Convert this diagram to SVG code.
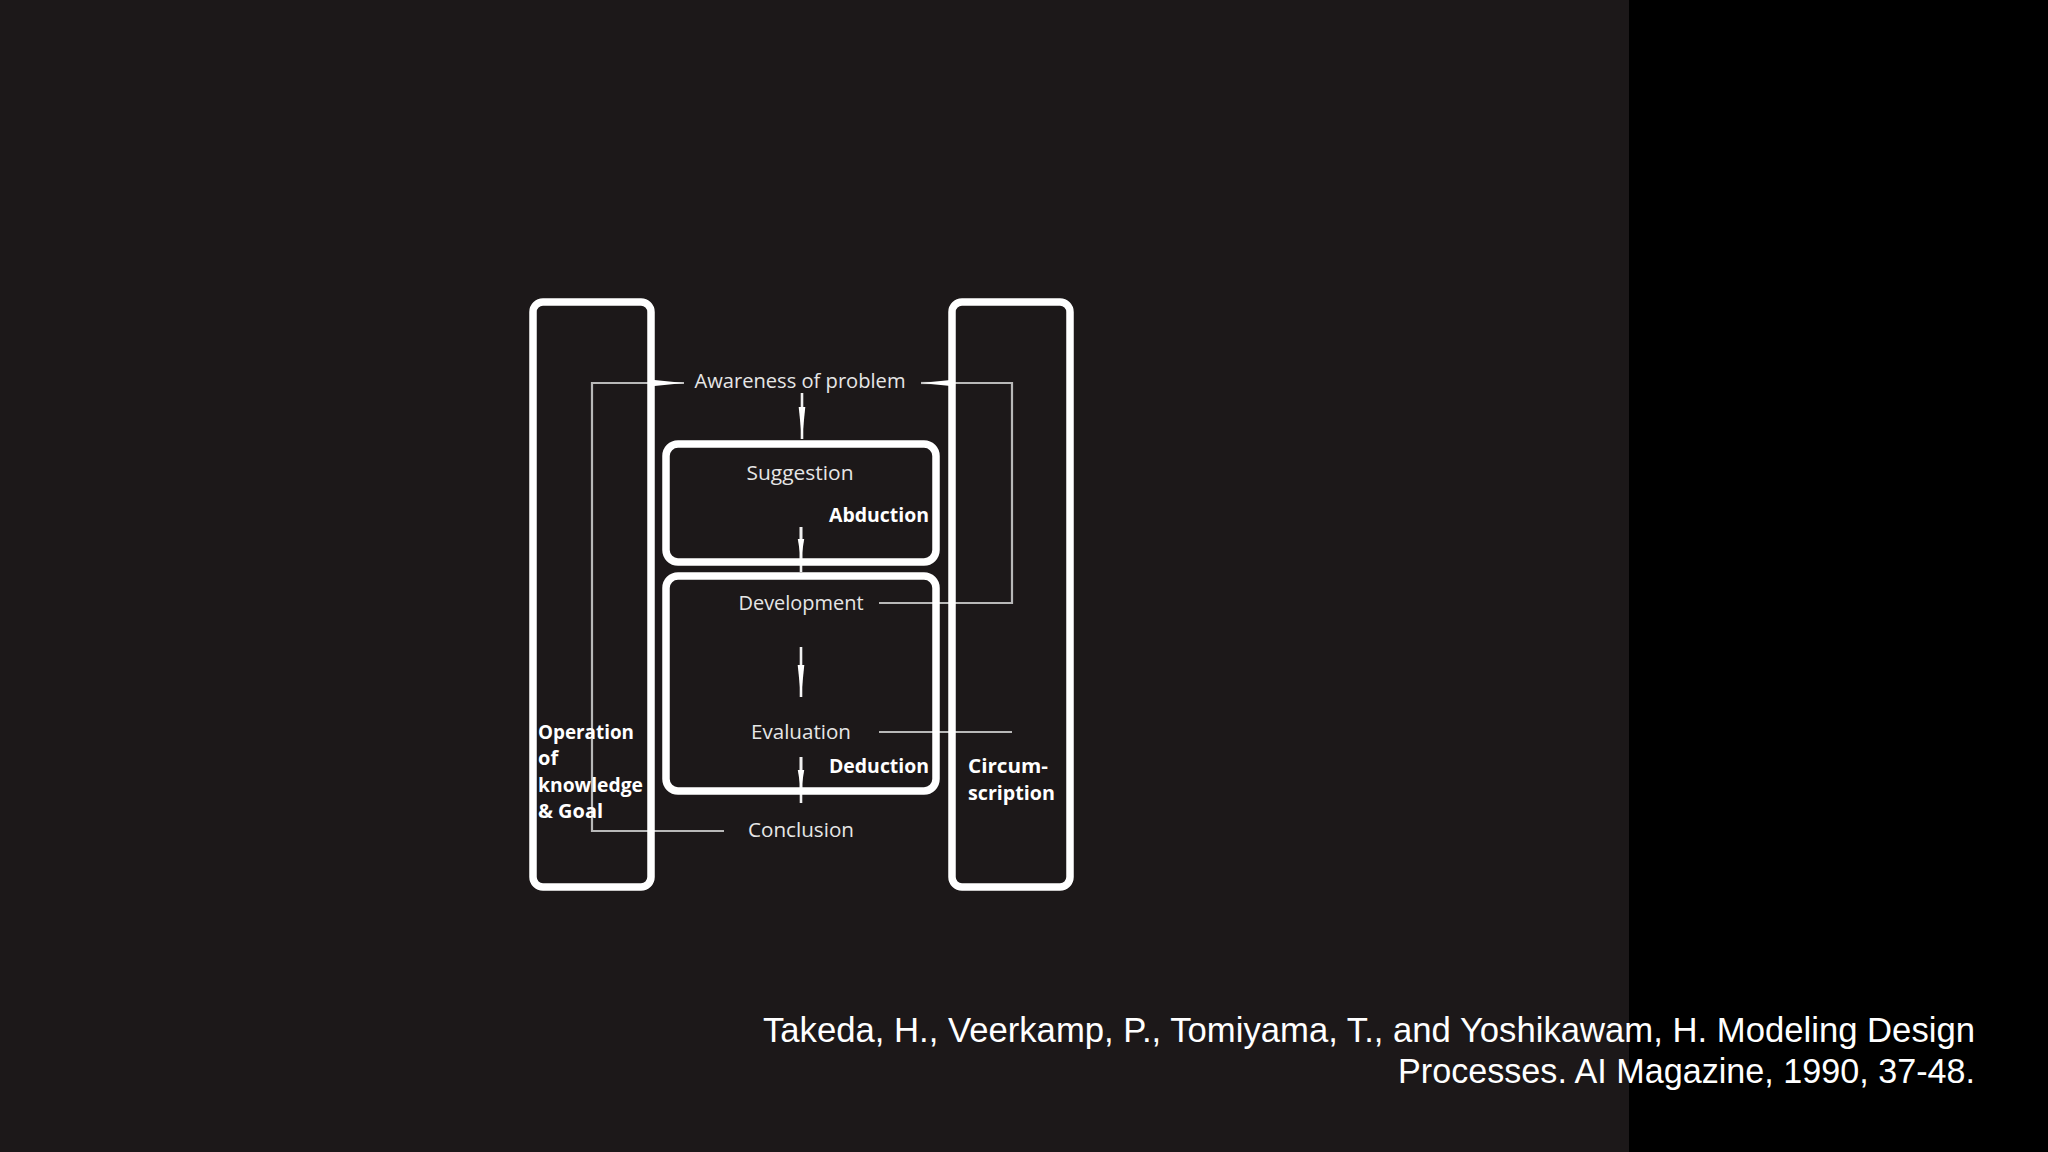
<svg xmlns="http://www.w3.org/2000/svg" width="2048" height="1152" viewBox="0 0 2048 1152">
<defs>
<style>
.box{fill:none;stroke:#ffffff;stroke-width:7.5;}
.fb{fill:none;stroke:#b8b8b8;stroke-width:2.2;}
.flow{fill:none;stroke:#f0f0f0;stroke-width:2.6;}
.lbl{font-family:"Open Sans","DejaVu Sans",sans-serif;font-size:20px;fill:#e6e6e6;text-anchor:middle;}
.bld{font-family:"Open Sans","DejaVu Sans",sans-serif;font-size:20px;font-weight:bold;fill:#ffffff;}
.cite{font-family:"Liberation Sans",Arial,sans-serif;font-size:34.5px;fill:#ffffff;text-anchor:end;}
</style>
<marker id="head" markerUnits="userSpaceOnUse" markerWidth="34" markerHeight="8" refX="32" refY="4" orient="auto">
<path d="M0,0.7 L32,4 L0,7.3 z" fill="#ffffff"/>
</marker>
<marker id="headS" markerUnits="userSpaceOnUse" markerWidth="22" markerHeight="8" refX="20" refY="4" orient="auto">
<path d="M0,0.8 L20,4 L0,7.2 z" fill="#ffffff"/>
</marker>
</defs>
<rect x="0" y="0" width="2048" height="1152" fill="#1c1819"/>
<rect x="1629" y="0" width="419" height="1152" fill="#000000"/>

<g id="connectors">
<path class="fb" d="M724,831 H592 V383 H652"/>
<path class="fb" d="M879,603 H1012 V383 H948"/>
<path class="fb" d="M879,732 H1012"/>
<line class="fb" x1="650" y1="383" x2="684" y2="383" marker-end="url(#head)"/>
<line class="fb" x1="950" y1="383" x2="921" y2="383" marker-end="url(#head)"/>
<line class="flow" x1="802" y1="393" x2="802" y2="439" marker-end="url(#head)"/>
<line class="flow" x1="801" y1="527" x2="801" y2="572"/>
<line class="flow" x1="801" y1="527" x2="801" y2="559" marker-end="url(#headS)"/>
<line class="flow" x1="801" y1="647" x2="801" y2="697" marker-end="url(#head)"/>
<line class="flow" x1="801" y1="757" x2="801" y2="803"/>
<line class="flow" x1="801" y1="757" x2="801" y2="790" marker-end="url(#headS)"/>
</g>

<g id="operation-knowledge-goal">
<rect class="box" x="533" y="302" width="118" height="585" rx="10"/>
<text class="bld" x="538" y="739" textLength="96" lengthAdjust="spacingAndGlyphs">Operation</text>
<text class="bld" x="538" y="765">of</text>
<text class="bld" x="538" y="792" textLength="105" lengthAdjust="spacingAndGlyphs">knowledge</text>
<text class="bld" x="538" y="818" textLength="65" lengthAdjust="spacingAndGlyphs">&amp; Goal</text>
</g>

<g id="circumscription">
<rect class="box" x="952" y="302" width="118" height="585" rx="10"/>
<text class="bld" x="968" y="773" textLength="80" lengthAdjust="spacingAndGlyphs">Circum-</text>
<text class="bld" x="968" y="800" textLength="87" lengthAdjust="spacingAndGlyphs">scription</text>
</g>

<g id="awareness">
<text class="lbl" x="800" y="388" textLength="211" lengthAdjust="spacingAndGlyphs">Awareness of problem</text>
</g>

<g id="suggestion">
<rect class="box" x="666" y="444" width="270" height="118" rx="12"/>
<text class="lbl" x="800" y="480" textLength="107" lengthAdjust="spacingAndGlyphs">Suggestion</text>
<text class="bld" x="829" y="522" textLength="100" lengthAdjust="spacingAndGlyphs">Abduction</text>
</g>

<g id="development-evaluation">
<rect class="box" x="666" y="576" width="270" height="215" rx="12"/>
<text class="lbl" x="801" y="610" textLength="125" lengthAdjust="spacingAndGlyphs">Development</text>
<text class="lbl" x="801" y="739" textLength="100" lengthAdjust="spacingAndGlyphs">Evaluation</text>
<text class="bld" x="829" y="773" textLength="100" lengthAdjust="spacingAndGlyphs">Deduction</text>
</g>

<g id="conclusion">
<text class="lbl" x="801" y="837" textLength="106" lengthAdjust="spacingAndGlyphs">Conclusion</text>
</g>

<g id="citation">
<text class="cite" x="1975" y="1042" textLength="1212" lengthAdjust="spacingAndGlyphs">Takeda, H., Veerkamp, P., Tomiyama, T., and Yoshikawam, H. Modeling Design</text>
<text class="cite" x="1975" y="1083" textLength="577" lengthAdjust="spacingAndGlyphs">Processes. AI Magazine, 1990, 37-48.</text>
</g>
</svg>
